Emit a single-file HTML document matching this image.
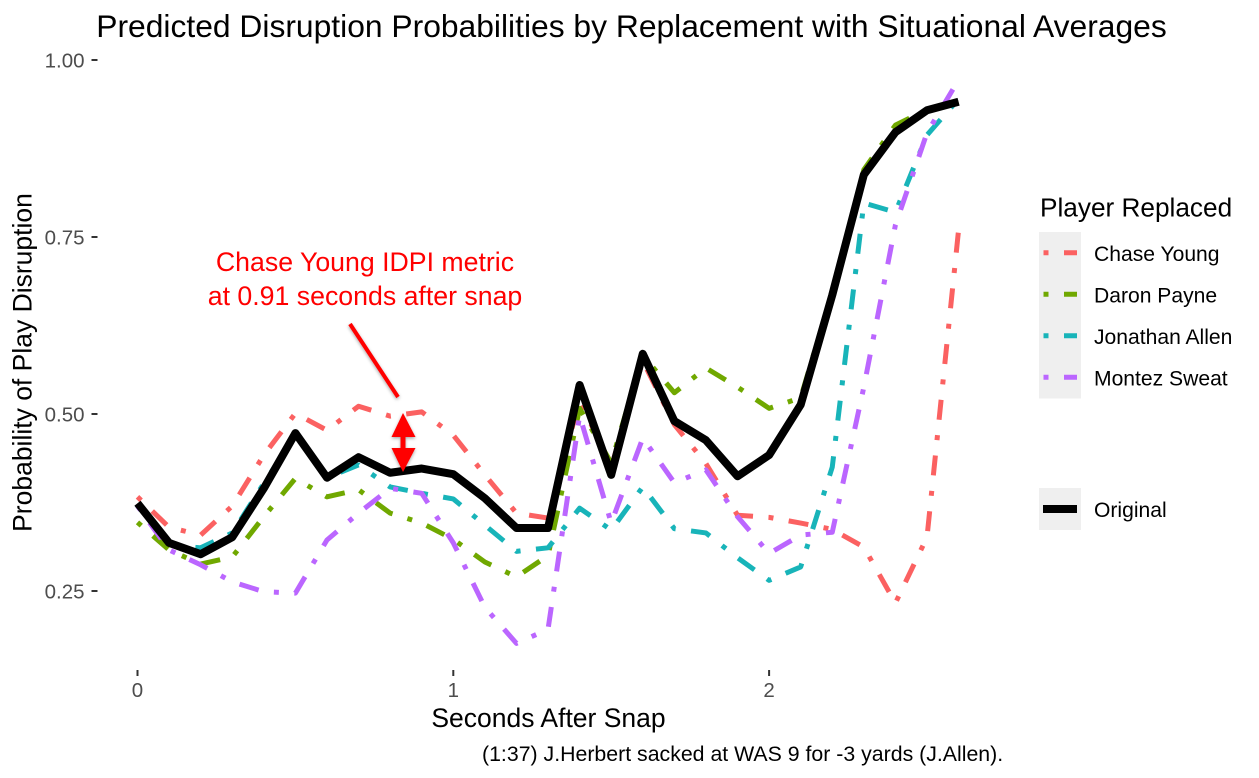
<!DOCTYPE html>
<html lang="en">
<head>
<meta charset="utf-8">
<title>Predicted Disruption Probabilities</title>
<style>
html,body{margin:0;padding:0;background:#fff;}
svg{display:block;}
text{font-family:"Liberation Sans",Arial,sans-serif;}
</style>
</head>
<body>
<svg id="chart" xmlns="http://www.w3.org/2000/svg" width="1259" height="778" viewBox="0 0 1259 778">
  <defs>
    <filter id="soft" x="-30%" y="-30%" width="160%" height="160%">
      <feDropShadow dx="0" dy="1.5" stdDeviation="1.5" flood-color="#000" flood-opacity="0.35"/>
    </filter>
  </defs>
  <rect x="0" y="0" width="1259" height="778" fill="#fff"/>
  <text x="631.5" y="37" text-anchor="middle" font-size="31.8" fill="#000">Predicted Disruption Probabilities by Replacement with Situational Averages</text>
  <g id="y-axis"></g>
  <g id="x-axis"></g>
  <text transform="translate(31.5,362.5) rotate(-90)" text-anchor="middle" font-size="26.5" fill="#000">Probability of Play Disruption</text>
  <text x="548.5" y="727" text-anchor="middle" font-size="26.5" fill="#000">Seconds After Snap</text>
  <text x="482" y="761" font-size="21.3" fill="#000">(1:37) J.Herbert sacked at WAS 9 for -3 yards (J.Allen).</text>
  <g id="series"></g>

  <g>
    <text x="365" y="271" text-anchor="middle" font-size="26.7" fill="#ff0000">Chase Young IDPI metric</text>
    <text x="365" y="305" text-anchor="middle" font-size="26.7" fill="#ff0000">at 0.91 seconds after snap</text>
    <line x1="350" y1="324" x2="398" y2="397" stroke="#ff0000" stroke-width="4" filter="url(#soft)"/>
    <g filter="url(#soft)">
      <rect x="400.5" y="436" width="5" height="13" fill="#ff0000"/>
      <polygon points="403,413 415.5,437 391.5,437" fill="#ff0000"/>
      <polygon points="403,472 391.5,448 415.5,448" fill="#ff0000"/>
    </g>
  </g>

  <g>
    <text x="1040" y="216.5" font-size="26.2" fill="#000">Player Replaced</text>
    <rect x="1039" y="232" width="42" height="166.5" fill="#efefef"/>
    <rect x="1039" y="488" width="42" height="42" fill="#efefef"/>
    <g>
      <line x1="1043.5" x2="1077" y1="252.8" y2="252.8" stroke="#FB6161" stroke-width="5" stroke-dasharray="5 15.5 20 15.5"/>
      <text x="1094" y="261" font-size="21.1" fill="#000">Chase Young</text>
    </g>
    <g>
      <line x1="1043.5" x2="1077" y1="294.3" y2="294.3" stroke="#70A800" stroke-width="5" stroke-dasharray="5 15.5 20 15.5"/>
      <text x="1094" y="302.5" font-size="21.1" fill="#000">Daron Payne</text>
    </g>
    <g>
      <line x1="1043.5" x2="1077" y1="335.8" y2="335.8" stroke="#18B4B9" stroke-width="5" stroke-dasharray="5 15.5 20 15.5"/>
      <text x="1094" y="344" font-size="21.1" fill="#000">Jonathan Allen</text>
    </g>
    <g>
      <line x1="1043.5" x2="1077" y1="377.3" y2="377.3" stroke="#BB66FF" stroke-width="5" stroke-dasharray="5 15.5 20 15.5"/>
      <text x="1094" y="385.5" font-size="21.1" fill="#000">Montez Sweat</text>
    </g>
    <g>
      <line x1="1043" x2="1077" y1="509" y2="509" stroke="#000" stroke-width="8"/>
      <text x="1094" y="517" font-size="21.1" fill="#000">Original</text>
    </g>
  </g>
</svg>
<script>
var seconds = [0,0.1,0.2,0.3,0.4,0.5,0.6,0.7,0.8,0.9,1.0,1.1,1.2,1.3,1.4,1.5,1.6,1.7,1.8,1.9,2.0,2.1,2.2,2.3,2.4,2.5,2.6];
var chaseYoung = [0.383,0.340,0.329,0.370,0.442,0.501,0.477,0.511,0.497,0.503,0.470,0.414,0.360,0.353,0.520,0.425,0.575,0.485,0.430,0.357,0.354,0.346,0.337,0.312,0.233,0.326,0.760];
var daronPayne = [0.347,0.308,0.288,0.298,0.355,0.409,0.383,0.393,0.360,0.346,0.323,0.291,0.270,0.300,0.508,0.431,0.583,0.530,0.565,0.538,0.508,0.523,0.672,0.845,0.908,0.930,0.940];
var jonathanAllen = [0.370,0.315,0.311,0.332,0.402,0.470,0.410,0.428,0.397,0.388,0.380,0.343,0.306,0.311,0.367,0.336,0.397,0.338,0.332,0.297,0.265,0.284,0.425,0.798,0.785,0.894,0.945];
var montezSweat = [0.370,0.308,0.287,0.263,0.249,0.247,0.322,0.360,0.395,0.388,0.318,0.227,0.176,0.196,0.498,0.346,0.466,0.403,0.421,0.355,0.303,0.329,0.333,0.538,0.767,0.897,0.972];
var original = [0.374,0.318,0.302,0.326,0.395,0.473,0.410,0.439,0.417,0.423,0.415,0.381,0.339,0.339,0.541,0.414,0.585,0.490,0.463,0.412,0.442,0.513,0.668,0.838,0.898,0.929,0.941];
var yTicks = [0.25,0.50,0.75,1.00];
var yTickLabels = ["0.25","0.50","0.75","1.00"];
var xTicks = [0,1,2];
var xTickLabels = ["0","1","2"];

var NS = "http://www.w3.org/2000/svg";
function xScale(t){ return 137.5 + t * 315.8; }
function yScale(v){ return 60 + (1 - v) * 708; }

var yAxis = document.getElementById("y-axis");
yTicks.forEach(function(v, i){
  var tick = document.createElementNS(NS, "line");
  
  
  tick.setAttribute("x1", 91.5);
  tick.setAttribute("x2", 97.5);
  tick.setAttribute("y1", yScale(v));
  tick.setAttribute("y2", yScale(v));
  tick.setAttribute("stroke", "#333");
  tick.setAttribute("stroke-width", 2);
  yAxis.appendChild(tick);
  var label = document.createElementNS(NS, "text");
  
  
  label.setAttribute("x", 84.5);
  label.setAttribute("y", yScale(v) + 7.5);
  label.setAttribute("text-anchor", "end");
  label.setAttribute("font-size", 20.5);
  label.setAttribute("fill", "#4d4d4d");
  label.textContent = yTickLabels[i];
  yAxis.appendChild(label);
});

var xAxis = document.getElementById("x-axis");
xTicks.forEach(function(t, i){
  var tick = document.createElementNS(NS, "line");
  
  
  tick.setAttribute("x1", xScale(t));
  tick.setAttribute("x2", xScale(t));
  tick.setAttribute("y1", 670);
  tick.setAttribute("y2", 676);
  tick.setAttribute("stroke", "#333");
  tick.setAttribute("stroke-width", 2);
  xAxis.appendChild(tick);
  var label = document.createElementNS(NS, "text");
  
  
  label.setAttribute("x", xScale(t));
  label.setAttribute("y", 697);
  label.setAttribute("text-anchor", "middle");
  label.setAttribute("font-size", 20.5);
  label.setAttribute("fill", "#4d4d4d");
  label.textContent = xTickLabels[i];
  xAxis.appendChild(label);
});

function pathFor(values){
  return values.map(function(v, i){
    return (i ? "L" : "M") + xScale(seconds[i]).toFixed(2) + " " + yScale(v).toFixed(2);
  }).join(" ");
}

var seriesGroup = document.getElementById("series");
function drawSeries(values, name, color, width, dash){
  var p = document.createElementNS(NS, "path");
  
  
  p.setAttribute("d", pathFor(values));
  p.setAttribute("fill", "none");
  p.setAttribute("stroke", color);
  p.setAttribute("stroke-width", width);
  p.setAttribute("stroke-linejoin", "round");
  p.setAttribute("stroke-linecap", "butt");
  if (dash) p.setAttribute("stroke-dasharray", dash);
  seriesGroup.appendChild(p);
}
drawSeries(chaseYoung, "line-chase-young", "#FB6161", 5, "5 15.5 20 15.5");
drawSeries(daronPayne, "line-daron-payne", "#70A800", 5, "5 15.5 20 15.5");
drawSeries(jonathanAllen, "line-jonathan-allen", "#18B4B9", 5, "5 15.5 20 15.5");
drawSeries(montezSweat, "line-montez-sweat", "#BB66FF", 5, "5 15.5 20 15.5");
drawSeries(original, "line-original", "#000000", 8, "");
</script>
</body>
</html>
